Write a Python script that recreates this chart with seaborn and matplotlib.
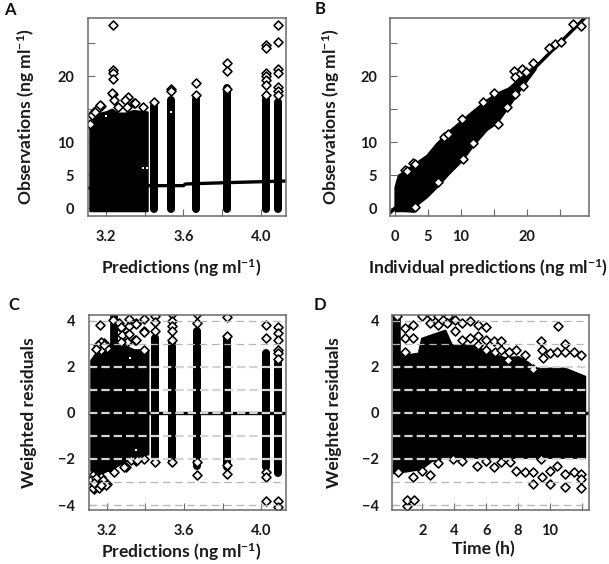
import matplotlib
matplotlib.use('Agg')
import matplotlib.pyplot as plt
import seaborn as sns

# panel A - observations vs population predictions
a_mass_x = [3.117, 3.14, 3.17, 3.20, 3.23, 3.26, 3.30, 3.34, 3.40, 3.413]
a_mass_top = [12.4, 13.6, 14.4, 14.6, 15.0, 14.4, 14.4, 14.8, 14.6, 14.6]
a_mass_low = [-0.4, -0.4, -0.4, -0.4, -0.4, -0.4, -0.4, -0.4, -0.4, -0.4]
a_col_x = [3.45, 3.536, 3.665, 3.823, 4.024, 4.086]
a_col_hi = [15.4, 16.4, 16.6, 18.2, 16.6, 16.1]
a_col_lo = [-0.1, -0.1, -0.1, -0.1, -0.1, -0.1]
a_trend_x = [3.105, 3.40, 3.60, 3.61, 3.82, 4.13]
a_trend_y = [3.0, 3.4, 3.4, 3.65, 3.85, 4.1]
a_out_x = [3.234, 3.234, 3.234, 3.234, 3.234, 3.174, 3.14, 3.126, 3.155, 3.315, 3.298, 3.346, 3.393, 3.24,
           3.169, 3.143, 3.117, 3.229, 3.264, 3.307, 3.35,
           3.45, 3.536, 3.536, 3.665, 3.665, 3.823, 3.823, 3.823,
           4.024, 4.024, 4.024, 4.024, 4.024, 4.024, 4.024,
           4.086, 4.086, 4.086, 4.086, 4.086, 4.086, 4.086]
a_out_y = [27.7, 20.85, 20.4, 19.6, 17.3, 15.5, 14.6, 14.1, 15.0, 16.9, 16.3, 15.9, 15.3, 16.4,
           15.6, 14.6, 12.8, 17.4, 15.3, 15.3, 15.9,
           16.1, 18.0, 17.7, 19.0, 17.2, 22.0, 20.7, 18.0,
           24.7, 24.2, 20.4, 20.0, 19.4, 18.7, 17.2,
           27.7, 25.1, 21.0, 20.5, 18.3, 17.8, 17.1]
a_speck_x = [3.39, 3.41, 3.536, 3.20, 3.823, 4.024]
a_speck_y = [6.1, 6.1, 14.6, 14.0, 18.0, 17.3]

# panel B - observations vs individual predictions
b_mass_x = [0.0, 0.5, 1.5, 2.8, 3.5, 4.8, 6.3, 8.1, 10.1, 11.9, 13.9, 15.4, 17.2, 19.2, 21.3]
b_mass_top = [3.2, 5.0, 5.65, 6.6, 7.1, 8.0, 9.8, 11.6, 13.3, 14.8, 16.4, 17.4, 18.2, 19.9, 21.7]
b_mass_low = [-0.4, -0.4, -0.4, -0.5, 0.7, 1.7, 3.2, 5.2, 7.2, 9.6, 11.9, 12.9, 15.4, 18.3, 21.1]
b_line_x = [-0.7, 29.5]
b_line_y = [-0.7, 29.5]
b_out_x = [2.7, 3.1, 1.6, 10.2, 7.4, 15.0, 18.0, 19.3, 20.9, 18.2, 23.4, 24.3, 25.2, 27.0, 28.3, 15.6,
           3.1, 10.4, 17.0, 18.3, 19.5, 6.5, 13.4, 1.9, 8.0, 11.9, 19.9]
b_out_y = [6.9, 6.7, 5.8, 13.5, 10.7, 17.5, 20.8, 21.0, 22.0, 19.8, 24.3, 24.9, 25.2, 27.9, 27.6, 12.8,
           0.1, 7.4, 15.3, 17.3, 18.5, 4.0, 16.1, 5.6, 11.3, 9.8, 20.6]

# panel C - weighted residuals vs predictions
c_mass_x = [3.117, 3.15, 3.20, 3.22, 3.22, 3.25, 3.25, 3.27, 3.34, 3.413]
c_mass_top = [2.3, 2.7, 2.9, 3.0, 4.3, 4.3, 3.0, 3.0, 2.75, 2.75]
c_mass_low = [-2.5, -2.7, -2.5, -2.5, -2.5, -2.3, -2.3, -2.2, -1.9, -1.78]
c_col_x = [3.45, 3.536, 3.665, 3.823, 4.024, 4.086]
c_col_hi = [3.25, 3.04, 3.55, 3.2, 2.6, 2.2]
c_col_lo = [-1.93, -2.15, -2.3, -2.36, -2.36, -2.6]
c_zero_x = [3.105, 4.13]
c_zero_y = [0, 0]
c_out_x = [3.164, 3.35, 3.393, 3.393, 3.393, 3.234, 3.272, 3.315, 3.298, 3.346, 3.264, 3.16, 3.186, 3.203, 3.169,
           3.169, 3.152, 3.186, 3.143, 3.272, 3.281, 3.315, 3.35, 3.393, 3.35, 3.307, 3.272, 3.315,
           3.135, 3.16, 3.2, 3.126, 3.169, 3.238, 3.298, 3.35, 3.393,
           3.126, 3.117, 3.143, 3.178, 3.195, 3.126, 3.16, 3.29, 3.324, 3.358, 3.134, 3.169,
           3.45, 3.45, 3.45, 3.45,
           3.536, 3.536, 3.536, 3.536, 3.536, 3.536,
           3.665, 3.665, 3.665, 3.665,
           3.823, 3.823, 3.823, 3.823,
           4.024, 4.024, 4.024, 4.024, 4.024,
           4.086, 4.086, 4.086, 4.086, 4.086, 4.086, 4.086, 4.086]
c_out_y = [3.81, 3.91, 4.09, 3.55, 2.74, 4.06, 3.69, 3.77, 3.33, 3.18, 3.91, 2.96, 3.04, 2.82, 2.74,
           3.09, 2.94, 2.94, 2.8, 3.74, 3.38, 4.1, 3.88, 3.52, 3.16, 3.09, 3.09, 3.45,
           -3.31, -3.17, -3.09, -2.8, -2.8, -2.58, -2.34, -2.07, -2.0,
           -2.7, -2.91, -2.84, -2.91, -3.13, -3.27, -3.27, -2.33, -2.04, -2.04, -3.06, -3.13,
           4.2, 3.95, 3.55, -2.15,
           4.28, 4.0, 3.77, 3.55, 3.15, -2.15,
           3.91, 4.28, -2.7, -2.15,
           4.16, 3.33, -2.65, -2.25,
           3.84, 3.25, -3.83, -2.58, -2.8,
           3.74, 3.48, 3.18, 2.74, 2.6, 2.35, -3.83, -4.08]
c_speck_x = [3.35, 3.32]
c_speck_y = [-1.6, 2.38]

# panel D - weighted residuals vs time
d_mass_x = [0.19, 0.56, 0.56, 0.71, 1.75, 1.96, 2.58, 3.42, 3.83, 4.46, 5.08, 6.33, 7.17, 8.0, 8.63, 9.04, 9.67, 10.92, 12.17]
d_mass_top = [4.3, 4.3, 2.6, 2.5, 2.6, 3.25, 3.4, 3.6, 2.96, 2.96, 2.96, 2.6, 2.4, 2.45, 2.2, 1.95, 1.95, 1.95, 1.6]
d_mass_low = [-2.6, -2.6, -2.55, -2.55, -2.44, -2.4, -2.07, -1.95, -1.93, -1.93, -1.93, -1.93, -1.93, -1.93, -1.93, -1.93, -1.93, -1.93, -1.93]
d_tail_x = [12.1, 12.46]
d_tail_y = [0, 0]
d_out_x = [0.40, 0.92, 1.44, 0.92, 1.44, 0.92, 2.0, 2.58, 3.0, 3.63, 2.48, 3.0, 3.52, 4.04, 4.46, 5.02, 5.5, 5.98,
           4.04, 4.46, 4.98, 5.5, 5.98, 6.48, 6.92, 5.5, 6.02, 6.54, 6.96, 7.42, 7.9, 8.46, 9.46, 9.5, 9.98, 10.5,
           10.44, 10.96, 10.96, 11.5, 11.96, 9.56, 8.94, 7.38,
           1.02, 1.02, 1.48, 0.5, 1.44, 1.96, 2.48, 3.0, 3.94, 4.46, 5.44, 5.98, 6.5, 6.96, 7.48, 7.9, 8.42,
           8.94, 8.94, 9.5, 9.98, 9.98, 10.44, 10.96, 10.96, 11.5, 11.96, 11.92, 11.96, 9.46]
d_out_y = [4.2, 3.69, 3.84, 3.26, 3.26, 2.67, 4.2, 4.2, 4.2, 4.2, 3.91, 3.84, 3.91, 4.06, 3.91, 4.01, 3.84, 3.74,
           3.55, 3.18, 3.26, 3.33, 3.18, 3.14, 3.14, 2.96, 2.74, 2.67, 2.74, 2.64, 2.74, 2.5, 3.11, 2.74, 2.6, 3.8,
           2.67, 3.01, 2.67, 2.67, 2.5, 2.38, 1.91, 2.31,
           -4.04, -3.78, -3.78, -2.58, -2.8, -2.51, -2.7, -2.19, -2.0, -2.07, -2.29, -2.07, -2.34, -2.15, -2.15, -2.54, -2.58,
           -3.09, -2.58, -2.8, -3.09, -2.51, -2.32, -2.66, -3.21, -2.58, -2.66, -3.28, -2.88, -2.0]

conc_ticks = [0, 5, 10, 15, 20, 25]
conc_labels = ['0', '5', '10', '', '20', '']
pred_ticks = [3.2, 3.4, 3.6, 3.8, 4.0]
pred_labels = ['3.2', '', '3.6', '', '4.0']
wres_ticks = [-4, -2, 0, 2, 4]
wres_labels = ['\u22124', '\u22122', '0', '2', '4']
time_ticks = [2, 4, 6, 8, 10, 12]
time_labels = ['2', '4', '6', '8', '10', '']
thin_refs = [-4, -3, 3, 4]
thick_refs = [-2, -1, 0, 1, 2]

sns.set_style('ticks')
plt.rcParams['font.family'] = ['Lato', 'DejaVu Sans']
plt.rcParams['font.weight'] = 'bold'
plt.rcParams['mathtext.fontset'] = 'custom'
plt.rcParams['mathtext.rm'] = 'Lato:bold'
plt.rcParams['mathtext.bf'] = 'Lato:bold'
plt.rcParams['mathtext.default'] = 'regular'

W, H = 609.0, 564.0
COL_PX = 8.0
TEXT = '#1a1a1a'
fig = plt.figure(figsize=(6.09, 5.64), dpi=100)


def make_axes(left, right, top, bottom):
    ax = fig.add_axes([left / W, 1 - bottom / H, (right - left) / W, (bottom - top) / H])
    for spine in ax.spines.values():
        spine.set_color('#6a6a6a')
        spine.set_linewidth(1.1)
        spine.set_visible(True)
        spine.set_zorder(6)
    return ax


def finish(ax, xlim, ylim, xticks, xlabels, yticks, ylabels, xlabel, ylabel, letter, letter_xy, xlabel_xy, ylabel_x):
    ax.set_xlim(xlim)
    ax.set_ylim(ylim)
    ax.set_xticks(xticks, xlabels)
    ax.set_yticks(yticks, ylabels)
    ax.tick_params(axis='x', direction='in', length=5, width=0.8, color='#6a6a6a', pad=10, labelsize=10.5, labelcolor=TEXT)
    ax.tick_params(axis='y', direction='in', length=5, width=0.8, color='#6a6a6a', pad=9.5, labelsize=10.5, labelcolor=TEXT)
    ax.set_xlabel(xlabel, fontsize=12.6, color=TEXT, fontweight='bold')
    ax.set_ylabel(ylabel, fontsize=12.6, color=TEXT, fontweight='bold')
    ax.xaxis.set_label_coords(xlabel_xy[0], xlabel_xy[1], transform=fig.transFigure)
    box = ax.get_position()
    ax.yaxis.set_label_coords(ylabel_x, box.y0 + box.height / 2, transform=fig.transFigure)
    fig.text(letter_xy[0] / W, 1 - letter_xy[1] / H, letter, fontsize=12, fontweight='bold', color='#111111',
             ha='center', va='center')


def draw_outliers(ax, x, y):
    sns.scatterplot(x=x, y=y, ax=ax, marker='D', s=21, color='white', edgecolor='black', linewidth=1.15,
                    legend=False, zorder=3)


def draw_specks(ax, x, y):
    sns.scatterplot(x=x, y=y, ax=ax, marker='s', s=4, color='white', linewidth=0, legend=False, zorder=3)


def draw_refs(ax):
    for level in thin_refs:
        ax.axhline(level, color='#b5b5b5', lw=0.9, dashes=(6, 3.8), zorder=4)
    for level in thick_refs:
        ax.axhline(level, color='#d4d4d4', lw=1.6, dashes=(3.75, 1.8), zorder=4)


def draw_columns(ax, x, lo, hi):
    ax.vlines(x, lo, hi, color='black', lw=COL_PX * 0.72, capstyle='round', zorder=2)


# A
ax = make_axes(87.5, 286, 18, 216)
ax.fill_between(a_mass_x, a_mass_low, a_mass_top, color='black', lw=1.5, zorder=2)
draw_columns(ax, a_col_x, a_col_lo, a_col_hi)
draw_outliers(ax, a_out_x, a_out_y)
draw_specks(ax, a_speck_x, a_speck_y)
sns.lineplot(x=a_trend_x, y=a_trend_y, ax=ax, color='black', lw=2.4, zorder=4, estimator=None, sort=False)
finish(ax, (3.105, 4.129), (-1.2, 28.8), pred_ticks, pred_labels, conc_ticks, conc_labels,
       'Predictions (ng ml$^{-1}$)', 'Observations (ng ml$^{-1}$)', 'A', (10, 10), (181.5 / W, 1 - 257 / H), 37 / W)

# B
ax = make_axes(390.3, 589.3, 18, 216)
ax.fill_between(b_mass_x, b_mass_low, b_mass_top, color='black', lw=1.5, zorder=2)
sns.lineplot(x=b_line_x, y=b_line_y, ax=ax, color='black', lw=2.4, zorder=2, estimator=None)
draw_outliers(ax, b_out_x, b_out_y)
finish(ax, (-0.7, 29.5), (-1.2, 28.8), conc_ticks, conc_labels, conc_ticks, conc_labels,
       'Individual predictions (ng ml$^{-1}$)', 'Observations (ng ml$^{-1}$)', 'B', (320, 9), (488 / W, 1 - 257 / H), 342 / W)

# C
ax = make_axes(88.5, 286, 314.7, 510.3)
ax.fill_between(c_mass_x, c_mass_low, c_mass_top, color='black', lw=1.5, zorder=2)
draw_columns(ax, c_col_x, c_col_lo, c_col_hi)
sns.lineplot(x=c_zero_x, y=c_zero_y, ax=ax, color='black', lw=2.4, zorder=2, estimator=None)
draw_outliers(ax, c_out_x, c_out_y)
draw_specks(ax, c_speck_x, c_speck_y)
draw_refs(ax)
finish(ax, (3.105, 4.129), (-4.23, 4.27), pred_ticks, pred_labels, wres_ticks, wres_labels,
       'Predictions (ng ml$^{-1}$)', 'Weighted residuals', 'C', (14, 305), (181.5 / W, 1 - 541 / H), 37 / W)

# D
ax = make_axes(392.3, 589.3, 314.7, 510.3)
ax.fill_between(d_mass_x, d_mass_low, d_mass_top, color='black', lw=1.5, zorder=2)
sns.lineplot(x=d_tail_x, y=d_tail_y, ax=ax, color='black', lw=2.4, zorder=2, estimator=None)
draw_outliers(ax, d_out_x, d_out_y)
draw_refs(ax)
finish(ax, (0.125, 12.46), (-4.23, 4.27), time_ticks, time_labels, wres_ticks, wres_labels,
       'Time (h)', 'Weighted residuals', 'D', (320, 305), (483 / W, 1 - 541 / H), 342 / W)

fig.savefig('out.png', dpi=100)
